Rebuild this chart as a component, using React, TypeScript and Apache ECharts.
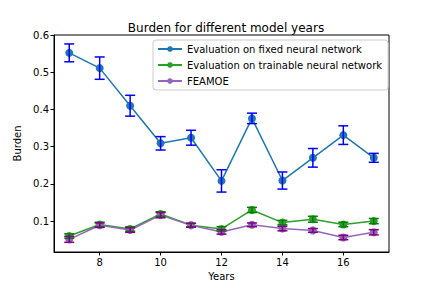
import React, { useEffect, useRef } from "react";
import * as echarts from "echarts";

const years = [7, 8, 9, 10, 11, 12, 13, 14, 15, 16, 17];
const fixedNN = [0.552, 0.511, 0.41, 0.309, 0.324, 0.208, 0.376, 0.209, 0.27, 0.331, 0.27];
const fixedErr = [0.024, 0.03, 0.028, 0.018, 0.02, 0.03, 0.014, 0.023, 0.025, 0.025, 0.012];
const trainNN = [0.06, 0.091, 0.079, 0.119, 0.089, 0.079, 0.13, 0.096, 0.105, 0.091, 0.1];
const trainErr = [0.006, 0.006, 0.006, 0.006, 0.005, 0.006, 0.007, 0.006, 0.008, 0.006, 0.007];
const feamoe = [0.051, 0.089, 0.076, 0.116, 0.089, 0.071, 0.09, 0.08, 0.075, 0.056, 0.07];
const feamoeErr = [0.008, 0.006, 0.006, 0.007, 0.005, 0.006, 0.005, 0.006, 0.005, 0.006, 0.007];
const xTicks = [8, 10, 12, 14, 16];
const yTicks = [0.1, 0.2, 0.3, 0.4, 0.5, 0.6];
const seriesNames = [
  "Evaluation on fixed neural network",
  "Evaluation on trainable neural network",
  "FEAMOE",
];

const FONT = "DejaVu Sans";

function errSeries(vals: number[], errs: number[], color: string, z: number) {
  return {
    type: "custom",
    z,
    silent: true,
    data: years.map((x, i) => [x, vals[i] - errs[i], vals[i] + errs[i]]),
    encode: { x: 0, y: [1, 2] },
    renderItem: (params: any, api: any) => {
      const lo = api.coord([api.value(0), api.value(1)]);
      const hi = api.coord([api.value(0), api.value(2)]);
      const hw = 5;
      const st = { stroke: color, lineWidth: 1.5 };
      return {
        type: "group",
        children: [
          { type: "line", shape: { x1: lo[0], y1: lo[1], x2: hi[0], y2: hi[1] }, style: st },
          { type: "line", shape: { x1: lo[0] - hw, y1: lo[1], x2: lo[0] + hw, y2: lo[1] }, style: st },
          { type: "line", shape: { x1: hi[0] - hw, y1: hi[1], x2: hi[0] + hw, y2: hi[1] }, style: st },
        ],
      };
    },
  };
}

function lineSeries(name: string, vals: number[], color: string) {
  return {
    name,
    type: "line",
    z: 3,
    data: years.map((x, i) => [x, vals[i]]),
    symbol: "circle",
    symbolSize: 8,
    itemStyle: { color },
    lineStyle: { color, width: 1.5 },
  };
}

export default function App() {
  const ref = useRef<HTMLDivElement>(null);
  useEffect(() => {
    const chart = echarts.init(ref.current!, null, { renderer: "svg" });
    chart.setOption({
      animation: false,
      backgroundColor: "#ffffff",
      textStyle: { fontFamily: FONT },
      title: {
        text: "Burden for different model years",
        left: 221,
        textAlign: "center",
        top: 17,
        textStyle: { fontFamily: FONT, fontSize: 12, fontWeight: "normal", color: "#000" },
      },
      legend: {
        data: seriesNames,
        orient: "vertical",
        left: 153,
        top: 40,
        itemWidth: 24,
        itemHeight: 7,
        itemGap: 6,
        padding: [4, 6, 4, 4],
        borderColor: "#cccccc",
        borderWidth: 1,
        borderRadius: 3,
        backgroundColor: "rgba(255,255,255,0.8)",
        textStyle: { fontFamily: FONT, fontSize: 10, color: "#000" },
      },
      grid: {
        left: 54,
        right: 43,
        top: 35,
        bottom: 36,
        show: true,
        borderColor: "#000",
        borderWidth: 1,
      },
      xAxis: {
        type: "value",
        min: 6.5,
        max: 17.5,
        name: "Years",
        nameLocation: "middle",
        nameGap: 19,
        nameTextStyle: { fontFamily: FONT, fontSize: 10, color: "#000" },
        splitLine: { show: false },
        axisLine: { show: true, lineStyle: { color: "#000" } },
        axisTick: { show: true, customValues: xTicks, length: 3.5, lineStyle: { color: "#000" } },
        axisLabel: { customValues: xTicks, fontFamily: FONT, fontSize: 10, color: "#000", margin: 5 },
      },
      yAxis: {
        type: "value",
        min: 0.017,
        max: 0.6,
        name: "Burden",
        nameLocation: "middle",
        nameGap: 28,
        nameTextStyle: { fontFamily: FONT, fontSize: 10, color: "#000" },
        splitLine: { show: false },
        axisLine: { show: true, lineStyle: { color: "#000" } },
        axisTick: { show: true, customValues: yTicks, length: 3.5, lineStyle: { color: "#000" } },
        axisLabel: {
          customValues: yTicks,
          fontFamily: FONT,
          fontSize: 10,
          color: "#000",
          margin: 5,
          formatter: (v: number) => v.toFixed(1),
        },
      },
      series: [
        lineSeries(seriesNames[0], fixedNN, "#1f77b4"),
        lineSeries(seriesNames[1], trainNN, "#2ca02c"),
        lineSeries(seriesNames[2], feamoe, "#9467bd"),
        errSeries(fixedNN, fixedErr, "#0000ff", 4),
        errSeries(trainNN, trainErr, "#008000", 4),
        errSeries(feamoe, feamoeErr, "#800080", 4),
      ],
    });
    return () => chart.dispose();
  }, []);
  return <div ref={ref} style={{ width: 432, height: 288, position: "absolute", left: 0, top: 0 }} />;
}
